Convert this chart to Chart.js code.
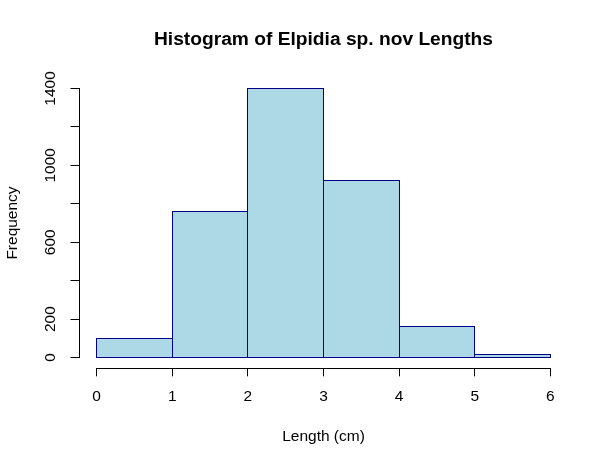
<!DOCTYPE html>
<html>
<head>
<meta charset="utf-8">
<script src="https://cdn.jsdelivr.net/npm/chart.js@4"></script>
<style>
  html, body { margin: 0; padding: 0; background: #ffffff; }
  #wrap { width: 609px; height: 466px; position: relative; }
</style>
</head>
<body>
<div id="wrap"><canvas id="c" width="609" height="466"></canvas></div>
<script>
// ---- data ----
const chartTitle = 'Histogram of Elpidia sp. nov Lengths';
const xAxisTitle = 'Length (cm)';
const yAxisTitle = 'Frequency';
const binEdges = [0, 1, 2, 3, 4, 5, 6];
const frequencies = [99, 762, 1398, 923, 162, 16];
const xTicks = [0, 1, 2, 3, 4, 5, 6];
const yTicks = [0, 200, 400, 600, 800, 1000, 1200, 1400];
const yTickLabels = ['0', '200', '', '600', '', '1000', '', '1400'];

const FONT = "'Liberation Sans', Arial, sans-serif";

const points = frequencies.map((f, i) => ({ x: (binEdges[i] + binEdges[i + 1]) / 2, y: f }));

// Snap bar rectangles to whole device pixels (like R's raster output) so that
// neighbouring bars share one crisp 1px border.
const snapBars = {
  id: 'snapBars',
  afterDatasetsUpdate(chart) {
    chart.getSortedVisibleDatasetMetas().forEach(meta => {
      meta.data.forEach(el => {
        const left = el.x - el.width / 2;
        const right = el.x + el.width / 2;
        const cL = Math.floor(left);
        const cR = Math.floor(right);
        el.x = (cL + cR + 1) / 2;
        el.width = cR + 1 - cL;
        const rTop = Math.floor(Math.min(el.y, el.base));
        const rBase = Math.floor(Math.max(el.y, el.base));
        el.y = rTop;
        el.base = rBase + 1;
      });
    });
  }
};

const axisLines = {
  id: 'axisLines',
  afterDatasetsDraw(chart) {
    const { ctx, scales: { x, y }, chartArea } = chart;
    ctx.save();
    ctx.strokeStyle = '#000000';
    ctx.lineWidth = 1;
    const yl = Math.round(chartArea.bottom) + 0.5;
    ctx.beginPath();
    ctx.moveTo(Math.floor(x.getPixelForValue(xTicks[0])), yl);
    ctx.lineTo(Math.floor(x.getPixelForValue(xTicks[xTicks.length - 1])) + 1, yl);
    ctx.stroke();
    const xl = Math.round(chartArea.left) + 0.5;
    ctx.beginPath();
    ctx.moveTo(xl, Math.floor(y.getPixelForValue(yTicks[0])) + 1);
    ctx.lineTo(xl, Math.floor(y.getPixelForValue(yTicks[yTicks.length - 1])));
    ctx.stroke();
    ctx.restore();
  }
};

new Chart(document.getElementById('c'), {
  type: 'bar',
  data: {
    datasets: [{
      data: points,
      backgroundColor: '#ADD8E6',
      borderColor: '#00008B',
      borderWidth: 1,
      borderSkipped: false,
      inflateAmount: 0,
      barPercentage: 1.0,
      categoryPercentage: 1.0
    }]
  },
  plugins: [snapBars, axisLines],
  options: {
    responsive: false,
    animation: false,
    devicePixelRatio: 1,
    layout: { padding: { left: 0, right: 40.5, top: 0, bottom: 0 } },
    plugins: {
      legend: { display: false },
      tooltip: { enabled: false },
      title: {
        display: true,
        fullSize: false,
        text: chartTitle,
        color: '#000000',
        font: { family: FONT, size: 19.2, weight: 'bold', lineHeight: 1.2 },
        padding: { top: 28.0, bottom: 26.66 }
      }
    },
    scales: {
      x: {
        type: 'linear',
        min: -0.24,
        max: 6.24,
        offset: false,
        afterBuildTicks: (s) => { s.ticks = xTicks.map(v => ({ value: v })); },
        afterFit: (s) => { s.height = 97.7; },
        grid: { display: true, offset: false, drawOnChartArea: false, drawTicks: true, tickLength: 8, color: '#000000', lineWidth: 1 },
        border: { display: false },
        ticks: {
          color: '#000000',
          font: { family: FONT, size: 15.5, lineHeight: 1.2 },
          padding: 10.9,
          maxRotation: 0,
          autoSkip: false,
          callback: (v) => String(v)
        },
        title: {
          display: true,
          text: xAxisTitle,
          color: '#000000',
          font: { family: FONT, size: 15.5, lineHeight: 1.2 },
          padding: { top: 0, bottom: 20 }
        }
      },
      y: {
        type: 'linear',
        min: -56,
        max: 1456,
        afterBuildTicks: (s) => { s.ticks = yTicks.map(v => ({ value: v })); },
        afterFit: (s) => { s.width = 78.5; },
        grid: { display: true, drawOnChartArea: false, drawTicks: true, tickLength: 8, color: '#000000', lineWidth: 1 },
        border: { display: false },
        ticks: {
          color: '#000000',
          font: { family: FONT, size: 15.5, lineHeight: 1.2 },
          padding: 2.8,
          minRotation: 90,
          maxRotation: 90,
          crossAlign: 'center',
          autoSkip: false,
          callback: (v) => { const i = yTicks.indexOf(v); return i >= 0 ? yTickLabels[i] : ''; }
        },
        title: {
          display: true,
          text: yAxisTitle,
          color: '#000000',
          font: { family: FONT, size: 15.5, lineHeight: 1.2 },
          padding: { top: 3.2, bottom: 0 }
        }
      }
    }
  }
});
</script>
</body>
</html>
